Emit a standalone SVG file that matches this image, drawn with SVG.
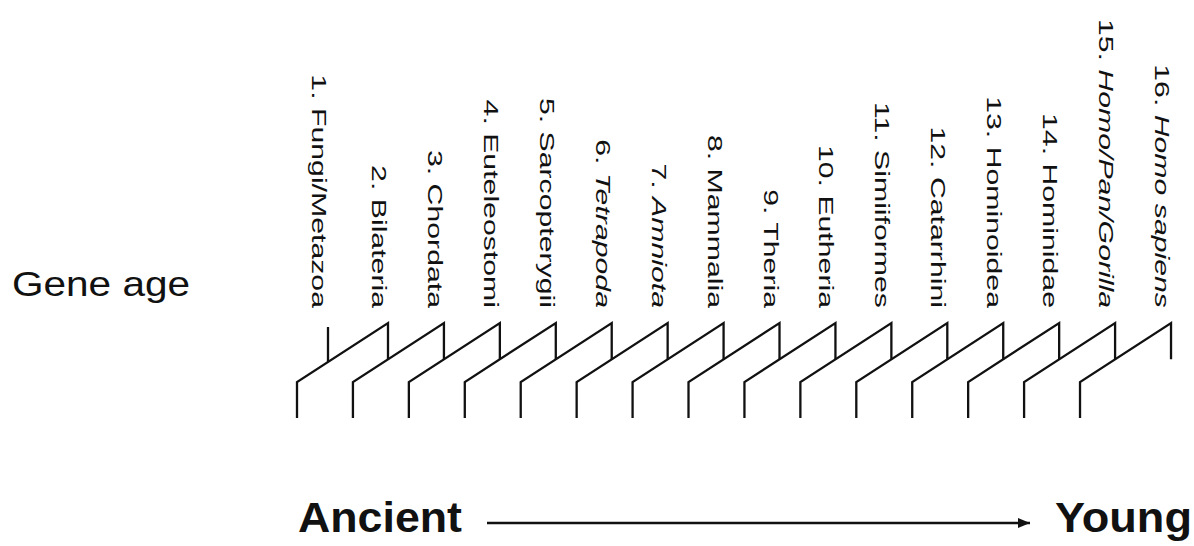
<svg xmlns="http://www.w3.org/2000/svg" xmlns:xlink="http://www.w3.org/1999/xlink" width="1194" height="546" viewBox="0 0 1194 546">
<style>
.lbl{font-family:"Liberation Sans",Arial,sans-serif;font-size:20.3px;fill:#111;text-anchor:end}
.it{font-style:italic}
.ln{fill:none;stroke:#111;stroke-width:2.3;stroke-linejoin:miter}
.big{font-family:"Liberation Sans",Arial,sans-serif;fill:#111}
</style>
<defs>
<path id="unit" class="ln" d="M0 95 V59 L91 0 V36.3"/>
<marker id="ah" markerWidth="12" markerHeight="10" refX="12" refY="5" orient="auto" markerUnits="userSpaceOnUse">
<path d="M0 0 L12 5 L0 10 Z" fill="#111"/>
</marker>
</defs>
<rect width="1194" height="546" fill="#fff"/>
<g id="connectors">
<line class="ln" x1="328" y1="327" x2="328" y2="362"/>
<use xlink:href="#unit" x="297" y="323"/>
<use xlink:href="#unit" x="352.93" y="323"/>
<use xlink:href="#unit" x="408.86" y="323"/>
<use xlink:href="#unit" x="464.79" y="323"/>
<use xlink:href="#unit" x="520.72" y="323"/>
<use xlink:href="#unit" x="576.65" y="323"/>
<use xlink:href="#unit" x="632.58" y="323"/>
<use xlink:href="#unit" x="688.51" y="323"/>
<use xlink:href="#unit" x="744.44" y="323"/>
<use xlink:href="#unit" x="800.37" y="323"/>
<use xlink:href="#unit" x="856.3" y="323"/>
<use xlink:href="#unit" x="912.23" y="323"/>
<use xlink:href="#unit" x="968.16" y="323"/>
<use xlink:href="#unit" x="1024.09" y="323"/>
<use xlink:href="#unit" x="1080.02" y="323"/>
<line class="ln" x1="487" y1="523" x2="1030" y2="523" marker-end="url(#ah)"/>
</g>
<g id="n1"><text class="lbl" transform="translate(312,308) rotate(90) scale(1.49,1)">1. Fungi/Metazoa</text></g>
<g id="n2"><text class="lbl" transform="translate(372,308) rotate(90) scale(1.49,1)">2. Bilateria</text></g>
<g id="n3"><text class="lbl" transform="translate(427.93,308) rotate(90) scale(1.49,1)">3. Chordata</text></g>
<g id="n4"><text class="lbl" transform="translate(483.86,308) rotate(90) scale(1.49,1)">4. Euteleostomi</text></g>
<g id="n5"><text class="lbl" transform="translate(539.79,308) rotate(90) scale(1.49,1)">5. Sarcopterygii</text></g>
<g id="n6"><text class="lbl" transform="translate(595.72,308) rotate(90) scale(1.49,1)">6. <tspan class="it">Tetrapoda</tspan></text></g>
<g id="n7"><text class="lbl" transform="translate(651.65,308) rotate(90) scale(1.49,1)">7. <tspan class="it">Amniota</tspan></text></g>
<g id="n8"><text class="lbl" transform="translate(707.58,308) rotate(90) scale(1.49,1)">8. Mammalia</text></g>
<g id="n9"><text class="lbl" transform="translate(763.51,308) rotate(90) scale(1.49,1)">9. Theria</text></g>
<g id="n10"><text class="lbl" transform="translate(819.44,308) rotate(90) scale(1.49,1)">10. Eutheria</text></g>
<g id="n11"><text class="lbl" transform="translate(875.37,308) rotate(90) scale(1.49,1)">11. Simiiformes</text></g>
<g id="n12"><text class="lbl" transform="translate(931.3,308) rotate(90) scale(1.49,1)">12. Catarrhini</text></g>
<g id="n13"><text class="lbl" transform="translate(987.23,308) rotate(90) scale(1.49,1)">13. Hominoidea</text></g>
<g id="n14"><text class="lbl" transform="translate(1043.16,308) rotate(90) scale(1.49,1)">14. Hominidae</text></g>
<g id="n15"><text class="lbl" transform="translate(1099.09,308) rotate(90) scale(1.49,1)">15. <tspan class="it">Homo/Pan/Gorilla</tspan></text></g>
<g id="n16"><text class="lbl" transform="translate(1155.02,308) rotate(90) scale(1.49,1)">16. <tspan class="it">Homo sapiens</tspan></text></g>
<g id="gene-age"><text class="big" x="12" y="296" font-size="35" textLength="178" lengthAdjust="spacingAndGlyphs">Gene age</text></g>
<g id="ancient"><text class="big" x="298" y="532" font-size="43" font-weight="bold" textLength="164" lengthAdjust="spacingAndGlyphs">Ancient</text></g>
<g id="young"><text class="big" x="1055" y="532" font-size="43" font-weight="bold" textLength="137" lengthAdjust="spacingAndGlyphs">Young</text></g>
</svg>
